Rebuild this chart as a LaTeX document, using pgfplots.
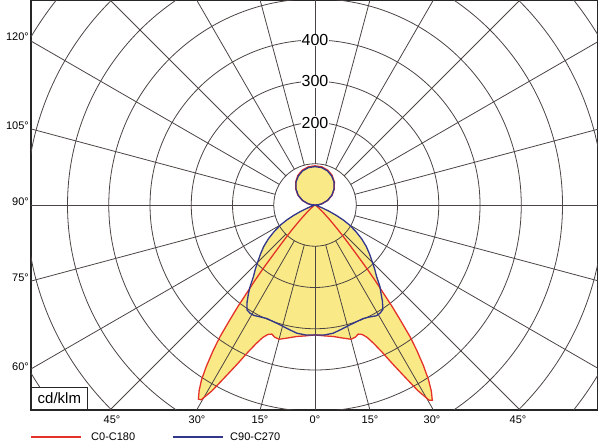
\documentclass[border=0pt]{standalone}
\usepackage{pgfplots}
\pgfplotsset{compat=1.18}
\usepackage{pgfplotstable}
\usepackage{fontspec}
\setmainfont{Liberation Sans}

\definecolor{lumyellow}{RGB}{250,234,135}
\definecolor{cred}{RGB}{228,50,40}
\definecolor{cblue}{RGB}{50,55,140}
\definecolor{gridc}{RGB}{75,68,66}

% C0-C180: signed angle a (negative = C180 side), intensity I in cd/klm
\pgfplotstableread{
a I
-180 95
-170 94
-160 90
-150 83
-140 73
-130 61
-120 48
-110 33
-100 17
-95 9
-90 0
-70 0
-60 3
-52 10
-48 25
-45 50
-43 80
-42 100
-41 125
-40 160
-39.2 200
-38.5 235
-37.8 270
-37.2 310
-36.5 350
-35.8 394
-35 430
-34 470
-33 505
-32 530
-31 549
-30.3 547
-29 515
-27.5 468
-26 428
-24.5 392
-23 365
-21.5 345
-20 334
-18.5 330
-17 335
-15 337
-12 330
-8 322
-4 318
0 315
4 318
8 322
12 330
15 337
17 335
18.5 330
20 334
21.5 345
23 365
24.5 392
26 428
27.5 468
29 515
30.3 548
31 552
32 532
33 505
34 470
35 430
35.8 394
36.5 350
37.2 310
37.8 270
38.5 235
39.2 200
40 160
41 125
42 100
43 80
45 50
48 25
52 10
60 3
70 0
90 0
95 9
100 17
110 33
120 48
130 61
140 73
150 83
160 90
170 94
180 95
}\redcurve

% C90-C270
\pgfplotstableread{
a I
-180 93
-170 92
-160 88
-150 81
-140 72
-130 60
-120 47
-110 32
-100 17
-95 9
-90 0
-80 0
-72 6
-68 20
-66 38
-64 58
-62 78
-60 96
-57 118
-54 140
-51 160
-48 178
-45 197
-43 212
-40.7 229
-38.5 253
-37 268
-35 287
-33 303
-31 306
-29 306
-26 302
-23 299
-20 300
-16 303
-12 308
-8 314
-4 316
0 315
4 316
8 314
12 308
16 303
20 300
23 299
26 302
29 307
31 306
33 302
35 285
37 265
38.5 253
40.7 229
43 212
45 197
48 178
51 160
54 140
57 118
60 96
62 78
64 58
66 38
68 20
72 6
80 0
90 0
95 9
100 17
110 32
120 47
130 60
140 72
150 81
160 88
170 92
180 93
}\bluecurve

\begin{document}
\begin{tikzpicture}
\useasboundingbox (0,0) rectangle (600bp,446bp);
\begin{axis}[
  at={(31bp,36bp)}, anchor=south west,
  scale only axis, width=566.5bp, height=410bp,
  xmin=-688.5, xmax=684.8, ymin=-497, ymax=497,
  axis lines=box, xtick=\empty, ytick=\empty,
  axis line style={line width=1.6bp, black!85},
  clip=true,
]
% fills
\addplot[fill=lumyellow, draw=none] table[x expr={\thisrow{I}*sin(\thisrow{a})}, y expr={-\thisrow{I}*cos(\thisrow{a})}] {\redcurve};
\addplot[fill=lumyellow, draw=none] table[x expr={\thisrow{I}*sin(\thisrow{a})}, y expr={-\thisrow{I}*cos(\thisrow{a})}] {\bluecurve};
% polar grid
\pgfplotsinvokeforeach{100,200,300,400,500,600,700,800,900}{
  \draw[gridc, line width=0.8bp] (axis cs:0,0) circle[radius=#1*0.4125bp];
}
\pgfplotsinvokeforeach{0,15,30,45,60,75,90,105,120,135,150,165,180,195,210,225,240,255,270,285,300,315,330,345}{
  \draw[gridc, line width=0.8bp] (axis cs:{100*sin(#1)},{-100*cos(#1)}) -- (axis cs:{1400*sin(#1)},{-1400*cos(#1)});
}
% curves
\addplot[cred, line width=1.3bp] table[x expr={\thisrow{I}*sin(\thisrow{a})}, y expr={-\thisrow{I}*cos(\thisrow{a})}] {\redcurve};
\addplot[cblue, line width=1.3bp] table[x expr={\thisrow{I}*sin(\thisrow{a})}, y expr={-\thisrow{I}*cos(\thisrow{a})}] {\bluecurve};
% radial labels
\node[fill=white, inner sep=0.6bp, font=\fontsize{16bp}{16bp}\selectfont] at (axis cs:0,200) {200};
\node[fill=white, inner sep=0.6bp, font=\fontsize{16bp}{16bp}\selectfont] at (axis cs:0,300) {300};
\node[fill=white, inner sep=0.6bp, font=\fontsize{16bp}{16bp}\selectfont] at (axis cs:0,400) {400};
\end{axis}
% unit box
\draw[black!85, line width=0.8bp, fill=white] (31.8bp,36.8bp) rectangle (87bp,59bp);
\node[font=\fontsize{15bp}{15bp}\selectfont] at (59.4bp,47.5bp) {cd/klm};
% angle labels
\begin{scope}[font=\fontsize{11bp}{13bp}\selectfont]
\node[anchor=east, inner sep=0] at (29bp,409bp) {120°};
\node[anchor=east, inner sep=0] at (29bp,320bp) {105°};
\node[anchor=east, inner sep=0] at (29bp,244bp) {90°};
\node[anchor=east, inner sep=0] at (29bp,168bp) {75°};
\node[anchor=east, inner sep=0] at (29bp,79bp) {60°};
\node[inner sep=0] at (112bp,26bp) {45°};
\node[inner sep=0] at (197bp,26bp) {30°};
\node[inner sep=0] at (260bp,26bp) {15°};
\node[inner sep=0] at (315bp,26bp) {0°};
\node[inner sep=0] at (370bp,26bp) {15°};
\node[inner sep=0] at (432bp,26bp) {30°};
\node[inner sep=0] at (518bp,26bp) {45°};
% legend
\draw[cred, line width=1.3bp] (31bp,9bp) -- (81bp,9bp);
\node[anchor=west, inner sep=0] at (91bp,9bp) {C0-C180};
\draw[cblue, line width=1.3bp] (173bp,9bp) -- (223bp,9bp);
\node[anchor=west, inner sep=0] at (230bp,9bp) {C90-C270};
\end{scope}
\end{tikzpicture}
\end{document}
